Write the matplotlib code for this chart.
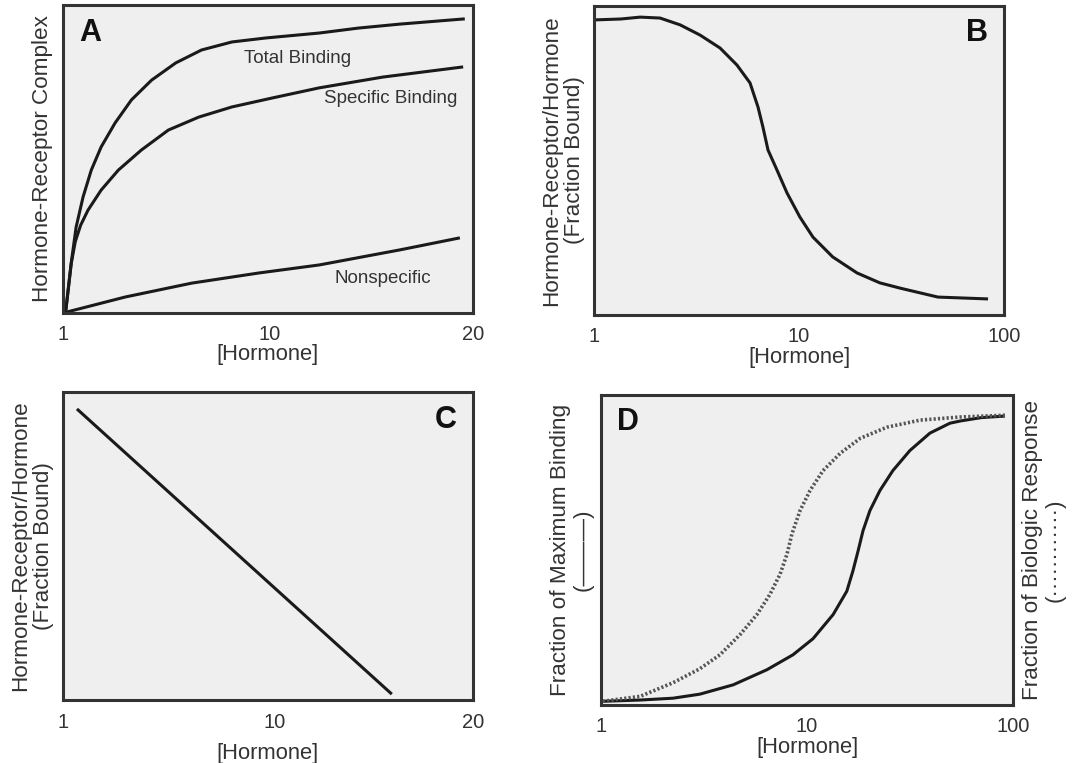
import numpy as np
import matplotlib
matplotlib.use("Agg")
import matplotlib.pyplot as plt
from matplotlib.ticker import FixedLocator, NullFormatter

plt.rcParams['font.family'] = ['Liberation Sans', 'DejaVu Sans']
plt.rcParams['font.size'] = 14

# ---- panel A: binding vs [Hormone] (x as position along axis, 1 -> 0, 10 -> 0.505, 20 -> 1)
a_total_x = [0.0, 0.007, 0.020, 0.032, 0.049, 0.069, 0.093, 0.127, 0.167, 0.216, 0.275, 0.338,
             0.412, 0.495, 0.625, 0.72, 0.822, 0.980]
a_total_y = [0.0, 0.010, 0.162, 0.279, 0.377, 0.464, 0.539, 0.617, 0.692, 0.756, 0.812, 0.854,
             0.880, 0.893, 0.909, 0.925, 0.938, 0.955]
a_spec_x = [0.0, 0.007, 0.020, 0.030, 0.043, 0.061, 0.093, 0.135, 0.191, 0.257, 0.331, 0.412,
            0.510, 0.625, 0.780, 0.976]
a_spec_y = [0.0, 0.010, 0.160, 0.232, 0.285, 0.334, 0.399, 0.464, 0.529, 0.594, 0.636, 0.669,
            0.698, 0.731, 0.766, 0.799]
a_nons_x = [0.0, 0.152, 0.314, 0.478, 0.625, 0.822, 0.968]
a_nons_y = [0.0, 0.052, 0.097, 0.130, 0.156, 0.205, 0.244]
a_ticks = [0.0, 0.505, 1.0]
a_ticklabels = ['1', '10', '20']

# ---- panel B: fraction bound vs [Hormone] (log)
b_x = [1.01, 1.355, 1.68, 2.10, 2.63, 3.29, 4.12, 4.98, 5.77, 6.31, 6.67, 7.06, 7.81, 8.74,
       10.1, 11.7, 14.6, 19.2, 24.8, 31.1, 47.6, 83.6]
b_y = [0.955, 0.958, 0.964, 0.961, 0.939, 0.906, 0.864, 0.809, 0.751, 0.673, 0.608, 0.534,
       0.469, 0.395, 0.317, 0.252, 0.188, 0.136, 0.104, 0.087, 0.058, 0.052]

# ---- panel C: straight line
c_x = [0.034, 0.802]
c_y = [0.945, 0.019]
c_ticks = [0.0, 0.515, 1.0]
c_ticklabels = ['1', '10', '20']

# ---- panel D: binding (solid) and response (dotted) vs [Hormone] (log)
d_bind_x = [1.02, 1.55, 2.24, 3.02, 4.38, 6.40, 8.55, 10.7, 13.4, 15.6, 16.7, 17.7, 18.7, 20.2,
            22.6, 26.1, 31.6, 39.5, 49.4, 55.3, 70.0, 91.4]
d_bind_y = [0.012, 0.016, 0.022, 0.035, 0.065, 0.114, 0.162, 0.214, 0.292, 0.367, 0.432, 0.497,
            0.562, 0.627, 0.692, 0.756, 0.821, 0.877, 0.909, 0.916, 0.927, 0.932]
d_resp_x = [1.02, 1.55, 2.24, 3.02, 3.78, 4.73, 5.72, 6.61, 7.40, 8.0, 8.45, 9.25, 10.35, 11.96,
            14.5, 18.1, 24.4, 35.4, 55.3, 93.5]
d_resp_y = [0.012, 0.028, 0.072, 0.117, 0.162, 0.227, 0.292, 0.357, 0.422, 0.487, 0.552, 0.627,
            0.692, 0.756, 0.812, 0.860, 0.896, 0.919, 0.929, 0.935]
log_ticks = [1, 10, 100]
log_ticklabels = ['1', '10', '100']

W, H = 1078, 763
fig = plt.figure(figsize=(W / 100, H / 100), dpi=100)

def add_axes(left, top, right, bottom):
    return fig.add_axes([left / W, 1 - bottom / H, (right - left) / W, (bottom - top) / H])

def style(ax, ticks, labels, mid, log=False):
    ax.set_facecolor('#efefef')
    for s in ax.spines.values():
        s.set_linewidth(2.2)
        s.set_color('#333333')
    if log:
        ax.set_xscale('log')
    ax.set_xticks(ticks)
    ax.set_xticklabels(labels)
    ax.xaxis.set_minor_locator(FixedLocator([mid]))
    ax.xaxis.set_minor_formatter(NullFormatter())
    ax.tick_params(axis='x', which='major', length=0, pad=9, labelsize=14.5, colors='#333333')
    ax.tick_params(axis='x', which='minor', direction='in', length=11, width=2.2, color='#222222')
    ax.set_yticks([])
    ax.set_ylim(0, 1)
    ax.set_xlabel('[Hormone]', fontsize=15.8, color='#333333', labelpad=0)

line_kw = dict(color='#1a1a1a', lw=2.2, solid_capstyle='butt', solid_joinstyle='round')
lab_kw = dict(rotation=90, ha='center', va='center', fontsize=16.2, color='#333333', linespacing=1.1)
ann_kw = dict(ha='center', va='center', fontsize=13.5, color='#333333')
let_kw = dict(ha='center', va='center', fontsize=22, fontweight='bold', color='#111111')

# A
axA = add_axes(63, 5, 473, 313)
axA.plot(a_total_x, a_total_y, **line_kw)
axA.plot(a_spec_x, a_spec_y, **line_kw)
axA.plot(a_nons_x, a_nons_y, **line_kw)
axA.set_xlim(0, 1)
style(axA, a_ticks, a_ticklabels, a_ticks[1])
axA.text(0.571, 0.825, 'Total Binding', **ann_kw)
axA.text(0.80, 0.695, 'Specific Binding', **ann_kw)
axA.text(0.78, 0.113, 'Nonspecific', **ann_kw)
axA.text(0.066, 0.909, 'A', transform=axA.transAxes, **let_kw)
axA.text(-0.051, 0.5, 'Hormone-Receptor Complex', transform=axA.transAxes, **lab_kw)

# B
axB = add_axes(594, 6, 1004, 315)
axB.plot(b_x, b_y, **line_kw)
axB.set_xlim(1, 100)
style(axB, log_ticks, log_ticklabels, 10, log=True)
axB.text(0.934, 0.913, 'B', transform=axB.transAxes, **let_kw)
axB.text(-0.076, 0.5, 'Hormone-Receptor/Hormone\n(Fraction Bound)', transform=axB.transAxes, **lab_kw)

# C
axC = add_axes(63, 392, 473, 700)
axC.plot(c_x, c_y, **line_kw)
axC.set_xlim(0, 1)
style(axC, c_ticks, c_ticklabels, c_ticks[1])
axC.xaxis.labelpad = 8
axC.text(0.934, 0.909, 'C', transform=axC.transAxes, **let_kw)
axC.text(-0.076, 0.5, 'Hormone-Receptor/Hormone\n(Fraction Bound)', transform=axC.transAxes, **lab_kw)

# D
axD = add_axes(601, 395, 1013, 705)
axD.plot(d_bind_x, d_bind_y, **line_kw)
axD.plot(d_resp_x, d_resp_y, color='#555555', lw=2.6, linestyle=(0, (0.6, 0.6)))
axD.set_xlim(1, 100)
style(axD, log_ticks, log_ticklabels, 10, log=True)
axD.text(0.066, 0.913, 'D', transform=axD.transAxes, **let_kw)
axD.text(-0.071, 0.5, 'Fraction of Maximum Binding\n(\u2014\u2014\u2014)', transform=axD.transAxes, **lab_kw)
axD.text(1.075, 0.5, 'Fraction of Biologic Response\n(\u00b7\u00b7\u00b7\u00b7\u00b7\u00b7\u00b7\u00b7\u00b7\u00b7\u00b7\u00b7)',
         transform=axD.transAxes, **lab_kw)

fig.savefig('out.png', dpi=100, facecolor='white')
